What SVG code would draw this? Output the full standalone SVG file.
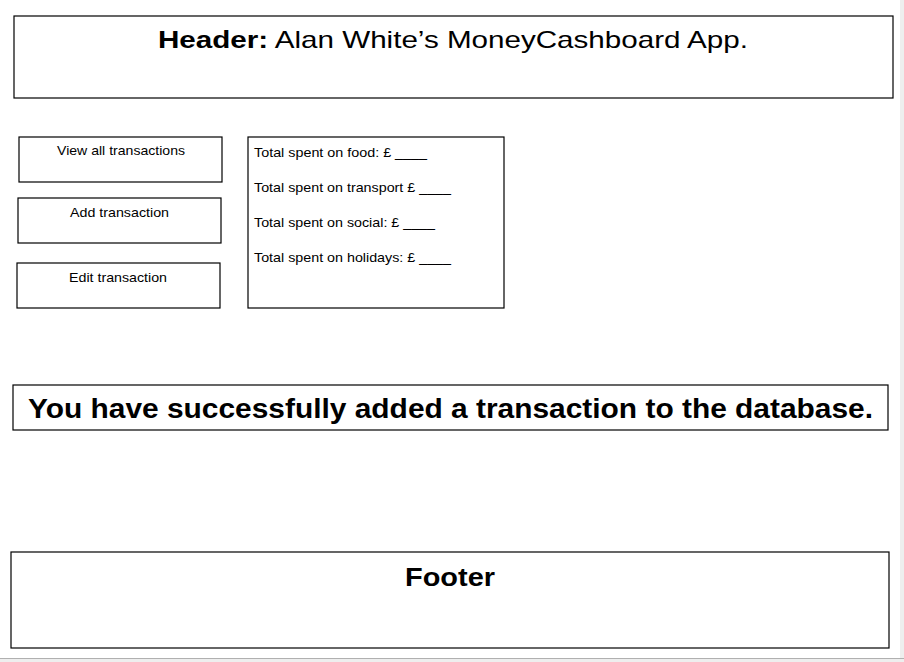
<svg xmlns="http://www.w3.org/2000/svg" width="904" height="662" viewBox="0 0 904 662">
<style>
.box{fill:#fff;stroke:#000;stroke-width:1.2}
text{font-family:"Liberation Sans",Arial,sans-serif;fill:#000}
.sm{font-size:13px}
.b{font-weight:bold}
</style>
<rect x="0" y="0" width="904" height="662" fill="#fff"/>
<rect x="900" y="0" width="4" height="662" fill="#eeeeee"/>
<rect x="0" y="658" width="904" height="4" fill="#eeeeee"/>
<line x1="0" y1="658.5" x2="904" y2="658.5" stroke="#b0b0b0" stroke-width="1"/>
<g id="header">
<rect class="box" x="14" y="16" width="879" height="82"/>
<text x="158" y="48" font-size="24" textLength="590" lengthAdjust="spacingAndGlyphs"><tspan class="b">Header:</tspan> Alan White’s MoneyCashboard App.</text>
</g>
<g id="view-all">
<rect class="box" x="19" y="137" width="203" height="45"/>
<text class="sm" x="57" y="155" textLength="128" lengthAdjust="spacingAndGlyphs">View all transactions</text>
</g>
<g id="add">
<rect class="box" x="18" y="198" width="203" height="45"/>
<text class="sm" x="70" y="217" textLength="99" lengthAdjust="spacingAndGlyphs">Add transaction</text>
</g>
<g id="edit">
<rect class="box" x="17" y="263" width="203" height="45"/>
<text class="sm" x="69" y="282" textLength="98" lengthAdjust="spacingAndGlyphs">Edit transaction</text>
</g>
<g id="totals">
<rect class="box" x="248" y="137" width="256" height="171"/>
<text class="sm" x="254" y="157" textLength="173" lengthAdjust="spacingAndGlyphs">Total spent on food: £ ____</text>
<text class="sm" x="254" y="192" textLength="197" lengthAdjust="spacingAndGlyphs">Total spent on transport £ ____</text>
<text class="sm" x="254" y="227" textLength="181" lengthAdjust="spacingAndGlyphs">Total spent on social: £ ____</text>
<text class="sm" x="254" y="262" textLength="197" lengthAdjust="spacingAndGlyphs">Total spent on holidays: £ ____</text>
</g>
<g id="success">
<rect class="box" x="13" y="385" width="875" height="45"/>
<text x="28" y="418" font-size="27" class="b" textLength="845" lengthAdjust="spacingAndGlyphs">You have successfully added a transaction to the database.</text>
</g>
<g id="footer">
<rect class="box" x="11" y="552" width="878" height="96"/>
<text x="405" y="586" font-size="26" class="b" textLength="90" lengthAdjust="spacingAndGlyphs">Footer</text>
</g>
<g id="connectors"/>
</svg>
